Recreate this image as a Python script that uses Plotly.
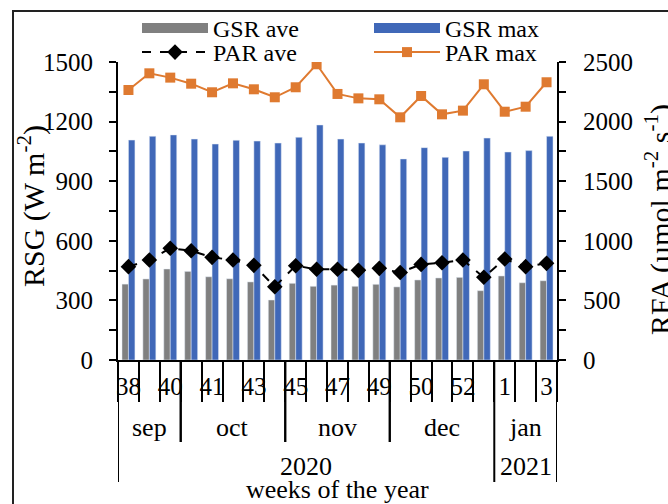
import plotly.graph_objects as go

# ---------------- data ----------------
weeks = ["38", "39", "40", "40", "41", "42", "43", "44", "45", "46", "47",
         "48", "49", "49", "50", "51", "52", "53", "1", "2", "3"]
months = ["sep"] * 3 + ["oct"] * 5 + ["nov"] * 5 + ["dec"] * 5 + ["jan"] * 3
years = ["2020"] * 18 + ["2021"] * 3

gsr_ave = [382, 408, 458, 446, 419, 409, 393, 302, 386, 371, 377, 371, 381,
           368, 403, 413, 416, 349, 423, 389, 399]
gsr_max = [1107, 1126, 1133, 1112, 1087, 1106, 1102, 1092, 1121, 1183, 1112,
           1092, 1083, 1012, 1069, 1020, 1052, 1117, 1047, 1054, 1126]
par_ave = [783, 839, 937, 917, 861, 839, 794, 615, 791, 761, 761, 752, 769,
           734, 802, 816, 839, 694, 847, 783, 811]
par_max = [2265, 2405, 2369, 2318, 2246, 2321, 2271, 2204, 2288, 2481, 2232,
           2195, 2187, 2036, 2215, 2061, 2092, 2313, 2083, 2125, 2330]

# ---------------- styling / layout constants ----------------
FONT = "Liberation Serif"
GRAY = "#808080"
BLUE = "#4068B8"
ORANGE = "#DF7A30"

W, H = 668, 504
ML, MR, MB = 118, 111, 144      # margins (top margin 0, plot top set by domain)
PAPER_H = H - MB                # 360 px of paper height
PLOT_TOP = 62                   # pixel row of the top of the plot area


def py(px):
    """pixel row -> paper fraction"""
    return (PAPER_H - px) / PAPER_H


def pxx(px):
    """pixel column -> paper fraction"""
    return (px - ML) / (W - ML - MR)


n = len(weeks)
x = list(range(n))

fig = go.Figure()
fig.add_trace(go.Bar(x=x, y=gsr_ave, name="GSR ave", marker_color=GRAY,
                     showlegend=False))
fig.add_trace(go.Bar(x=x, y=gsr_max, name="GSR max", marker_color=BLUE,
                     showlegend=False))
fig.add_trace(go.Scatter(x=x, y=par_ave, name="PAR ave", yaxis="y2",
                         mode="lines+markers",
                         line=dict(color="black", width=2, dash="dash"),
                         marker=dict(symbol="diamond", size=12, color="black"),
                         legend="legend3"))
fig.add_trace(go.Scatter(x=x, y=par_max, name="PAR max", yaxis="y2",
                         mode="lines+markers",
                         line=dict(color=ORANGE, width=2),
                         marker=dict(symbol="square", size=10, color=ORANGE),
                         legend="legend4"))
# legend-only proxies giving wide rectangular swatches for the bar series
fig.add_trace(go.Scatter(x=[None], y=[None], name="GSR ave", mode="lines",
                         line=dict(color=GRAY, width=13), legend="legend"))
fig.add_trace(go.Scatter(x=[None], y=[None], name="GSR max", mode="lines",
                         line=dict(color=BLUE, width=13), legend="legend2"))


# group boundaries (months / years)
def groups(labels):
    out = []
    start = 0
    for i in range(1, len(labels) + 1):
        if i == len(labels) or labels[i] != labels[start]:
            out.append((labels[start], start, i - 1))
            start = i
    return out


month_groups = groups(months)
year_groups = groups(years)

shapes = []
annotations = []
Y_MONTH_END = py(442)
Y_YEAR_END = py(482)
year_bounds = set()
for _, s, e in year_groups:
    year_bounds.add(s - 0.5)
    year_bounds.add(e + 0.5)
for b in sorted(year_bounds):
    shapes.append(dict(type="line", xref="x", yref="paper", x0=b, x1=b,
                       y0=py(360), y1=Y_YEAR_END,
                       line=dict(color="black", width=2)))
for _, s, e in month_groups:
    for b in (s - 0.5, e + 0.5):
        if b not in year_bounds:
            shapes.append(dict(type="line", xref="x", yref="paper", x0=b, x1=b,
                               y0=py(360), y1=Y_MONTH_END,
                               line=dict(color="black", width=2)))

txt = dict(family=FONT, size=26, color="black")
for name, s, e in month_groups:
    annotations.append(dict(text=name, x=(s + e) / 2, xref="x", y=py(427),
                            yref="paper", showarrow=False, yanchor="middle",
                            font=txt))
for name, s, e in year_groups:
    annotations.append(dict(text=name, x=(s + e) / 2, xref="x", y=py(466),
                            yref="paper", showarrow=False, yanchor="middle",
                            font=txt))
annotations.append(dict(text="weeks of the year", x=0.5, xref="paper",
                        y=py(489), yref="paper", showarrow=False,
                        yanchor="middle",
                        font=dict(family=FONT, size=26, color="black")))
# axis titles
annotations.append(dict(text="RSG (W m<sup>-2</sup>)", x=pxx(31), xref="paper",
                        y=py(206), yref="paper", textangle=-90, showarrow=False,
                        xanchor="center", yanchor="middle",
                        font=dict(family=FONT, size=30, color="black")))
annotations.append(dict(text="RFA (µmol m<sup>-2</sup> s<sup>-1</sup>)",
                        x=pxx(658), xref="paper", y=py(220), yref="paper",
                        textangle=-90, showarrow=False,
                        xanchor="center", yanchor="middle",
                        font=dict(family=FONT, size=30, color="black")))

# outer frame
shapes.append(dict(type="rect", xref="paper", yref="paper", x0=pxx(13),
                   x1=pxx(W + 20), y0=py(H + 20), y1=py(11),
                   line=dict(color="#222222", width=2)))


def leg(xp, yp):
    return dict(x=xp, xanchor="left", y=yp, yanchor="top",
                orientation="v", bgcolor="rgba(0,0,0,0)", itemwidth=66,
                font=dict(family=FONT, size=24), tracegroupgap=0)


fig.update_layout(
    width=W, height=H, autosize=False,
    margin=dict(l=ML, r=MR, t=0, b=MB),
    paper_bgcolor="white", plot_bgcolor="white",
    font=dict(family=FONT, size=24, color="black"),
    barmode="group", bargap=0.38, bargroupgap=0,
    shapes=shapes, annotations=annotations,
    xaxis=dict(
        range=[-0.5, n - 0.5], tickmode="array",
        tickvals=x[::2], ticktext=weeks[::2],
        ticks="outside", ticklen=3, tickcolor="rgba(0,0,0,0)",
        showline=True, linecolor="black", linewidth=2,
        showgrid=False, zeroline=False, automargin=False,
        tickfont=dict(family=FONT, size=25),
        minor=dict(tickmode="array", tickvals=[i - 0.5 for i in range(n + 1)],
                   ticks="outside", ticklen=40, tickwidth=2,
                   tickcolor="black", showgrid=False),
    ),
    yaxis=dict(
        domain=[0, py(PLOT_TOP)],
        range=[0, 1500], tickmode="linear", tick0=0, dtick=300,
        ticks="outside", ticklen=7, tickwidth=2, tickcolor="black",
        ticklabelstandoff=11, automargin=False,
        showline=True, linecolor="black", linewidth=2,
        showgrid=False, zeroline=False,
        minor=dict(tick0=0, dtick=150, ticks="outside", ticklen=7,
                   tickwidth=2, tickcolor="black", showgrid=False),
        tickfont=dict(family=FONT, size=25),
    ),
    yaxis2=dict(
        overlaying="y", side="right", anchor="x",
        range=[0, 2500], tickmode="linear", tick0=0, dtick=500,
        ticks="outside", ticklen=7, tickwidth=2, tickcolor="black",
        ticklabelstandoff=12, automargin=False,
        showline=True, linecolor="black", linewidth=2,
        showgrid=False, zeroline=False,
        minor=dict(tick0=0, dtick=250, ticks="outside", ticklen=7,
                   tickwidth=2, tickcolor="black", showgrid=False),
        tickfont=dict(family=FONT, size=25),
    ),
    legend=leg(pxx(137), py(6)),
    legend2=leg(pxx(369), py(6)),
    legend3=leg(pxx(137), py(30)),
    legend4=leg(pxx(369), py(30)),
)

fig.write_html("out.html", config={"displayModeBar": False},
               post_script="document.body.style.margin='0';")
